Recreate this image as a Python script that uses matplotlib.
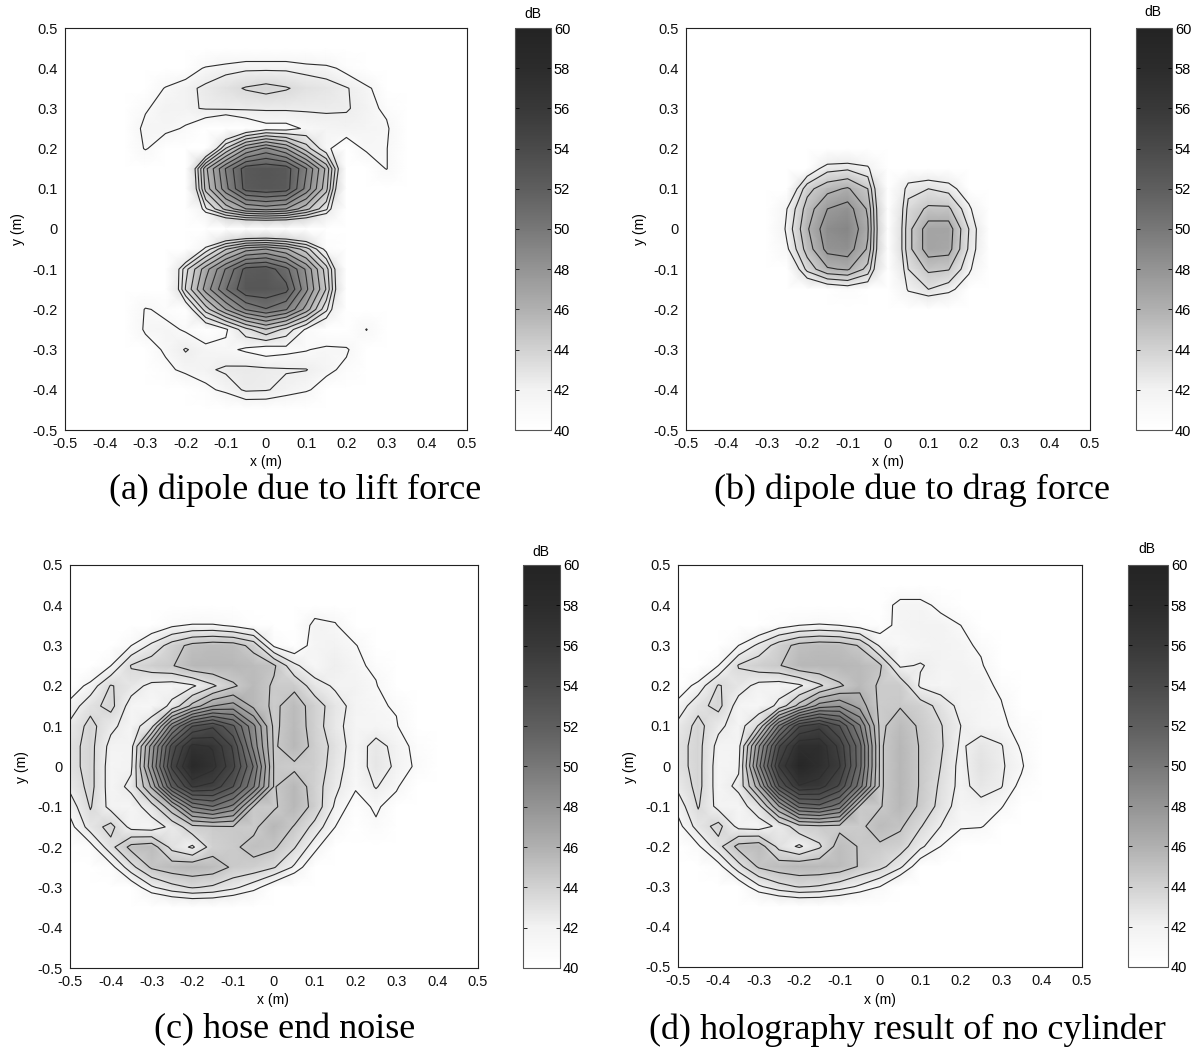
import numpy as np
import matplotlib
matplotlib.use('Agg')
import matplotlib.pyplot as plt
from matplotlib.colors import LinearSegmentedColormap, Normalize
from matplotlib.cm import ScalarMappable

# ------------------------------------------------------------
# measurement grid (m) - rows run from y = +0.5 down to y = -0.5
# ------------------------------------------------------------
x_m = [-0.50, -0.45, -0.40, -0.35, -0.30, -0.25, -0.20, -0.15, -0.10, -0.05, 0.00,
       0.05, 0.10, 0.15, 0.20, 0.25, 0.30, 0.35, 0.40, 0.45, 0.50]
y_m = [0.50, 0.45, 0.40, 0.35, 0.30, 0.25, 0.20, 0.15, 0.10, 0.05, 0.00,
       -0.05, -0.10, -0.15, -0.20, -0.25, -0.30, -0.35, -0.40, -0.45, -0.50]

# (a) dipole due to lift force, dB
lift_db = [
    [38, 38, 38, 38, 38, 38, 38, 38, 38, 38, 38, 38, 38, 38, 38, 38, 38, 38, 38, 38, 38],
    [38, 38, 38, 38, 38, 38, 38, 38, 38, 39, 39, 39, 38, 38, 38, 38, 38, 38, 38, 38, 38],
    [38, 38, 38, 38, 38, 38, 40, 41.2, 41.8, 42, 42, 42, 41.8, 41.5, 40.5, 38, 38, 38, 38, 38, 38],
    [38, 38, 38, 38, 39, 41.2, 41.8, 42.5, 43, 43.5, 43.8, 43.5, 43, 42.8, 42.3, 41.5, 39.5, 38, 38, 38, 38],
    [38, 38, 38, 39, 40.8, 41.8, 42, 42.3, 42.4, 42.4, 42.4, 42.4, 42.4, 42.4, 42.3, 41.8, 40.5, 38, 38, 38, 38],
    [38, 38, 38, 39.5, 41.5, 41.5, 40.8, 39.5, 38, 39.5, 40.5, 40.5, 41.2, 41.6, 41.8, 41.6, 41.4, 38, 38, 38, 38],
    [38, 38, 38, 39, 41.2, 39.5, 38, 38, 43.5, 47, 48.5, 47, 44, 41.3, 40, 41.3, 41.1, 38, 38, 38, 38],
    [38, 38, 38, 38, 38, 38, 37, 45.5, 49.5, 52.5, 52.8, 52.5, 49.5, 45.5, 38, 39.5, 41.1, 38, 38, 38, 38],
    [38, 38, 38, 38, 38, 38, 36.5, 45, 49, 52.3, 52.7, 52.4, 49, 45, 36.5, 38, 38, 38, 38, 38, 38],
    [38, 38, 38, 38, 38, 38, 36, 42, 45, 47, 47.5, 47, 45, 42.5, 36, 38, 38, 38, 38, 38, 38],
    [38, 38, 38, 38, 36, 36, 36, 36, 36, 36, 36, 36, 36, 36, 36, 36, 36, 38, 38, 38, 38],
    [38, 38, 38, 38, 38, 38, 37, 41.5, 44.5, 46.5, 47, 46, 44, 40.5, 37, 38, 38, 38, 38, 38, 38],
    [38, 38, 38, 38, 38, 37, 43, 46.5, 49.5, 52.2, 52.5, 51, 48, 44, 37, 38, 38, 38, 38, 38, 38],
    [38, 38, 38, 38, 38, 36.5, 43.5, 47.5, 50.5, 52.8, 52.8, 52.2, 48.5, 44.5, 37, 38, 38, 38, 38, 38, 38],
    [38, 38, 38, 38, 41.2, 40.5, 39.5, 44, 47, 49.5, 50.5, 49.5, 46.5, 42.5, 37, 38, 38, 38, 38, 38, 38],
    [38, 38, 38, 39, 41.3, 41.5, 40.8, 39.5, 40.8, 43, 44.5, 43, 40.8, 39, 38.5, 41.1, 38, 38, 38, 38, 38],
    [38, 38, 38, 38.5, 40, 41.3, 42.3, 41.6, 41.3, 40.8, 40.3, 40.6, 40.9, 41.4, 41.3, 39, 38, 38, 38, 38, 38],
    [38, 38, 38, 38, 38.5, 40.5, 41.5, 42, 42.4, 42.5, 42.4, 42.3, 42.25, 41.5, 40.5, 38, 38, 38, 38, 38, 38],
    [38, 38, 38, 38, 38, 38, 39, 40.5, 41.5, 42.4, 42.3, 41.8, 41.3, 40, 38, 38, 38, 38, 38, 38, 38],
    [38, 38, 38, 38, 38, 38, 38, 38, 38, 39.5, 39.5, 39, 38, 38, 38, 38, 38, 38, 38, 38, 38],
    [38, 38, 38, 38, 38, 38, 38, 38, 38, 38, 38, 38, 38, 38, 38, 38, 38, 38, 38, 38, 38],
]

# (b) dipole due to drag force, dB
drag_db = [
    [38, 38, 38, 38, 38, 38, 38, 38, 38, 38, 38, 38, 38, 38, 38, 38, 38, 38, 38, 38, 38],
    [38, 38, 38, 38, 38, 38, 38, 38, 38, 38, 38, 38, 38, 38, 38, 38, 38, 38, 38, 38, 38],
    [38, 38, 38, 38, 38, 38, 38, 38, 38, 38, 38, 38, 38, 38, 38, 38, 38, 38, 38, 38, 38],
    [38, 38, 38, 38, 38, 38, 38, 38, 38, 38, 38, 38, 38, 38, 38, 38, 38, 38, 38, 38, 38],
    [38, 38, 38, 38, 38, 38, 38, 38, 38, 38, 38, 38, 38, 38, 38, 38, 38, 38, 38, 38, 38],
    [38, 38, 38, 38, 38, 38, 38, 38, 38, 38, 38, 38, 38, 38, 38, 38, 38, 38, 38, 38, 38],
    [38, 38, 38, 38, 38, 38, 38, 38, 38, 38, 38, 38, 38, 38, 38, 38, 38, 38, 38, 38, 38],
    [38, 38, 38, 38, 38, 38, 40, 42.5, 42.8, 42, 36, 39, 39.5, 39, 38, 38, 38, 38, 38, 38, 38],
    [38, 38, 38, 38, 38, 39, 44, 45.5, 46.2, 44.5, 36, 42.5, 43, 42.5, 40, 38, 38, 38, 38, 38, 38],
    [38, 38, 38, 38, 37, 41.5, 45.2, 47.5, 48.2, 45.8, 36, 43.5, 44.8, 44.8, 42, 38, 38, 38, 38, 38, 38],
    [38, 38, 38, 38, 37, 42, 45.8, 48.5, 49, 46.2, 36, 44, 46.8, 46.8, 43, 39, 38, 38, 38, 38, 38],
    [38, 38, 38, 38, 37, 41.2, 45.2, 48, 48.3, 45.8, 36, 44, 46.8, 46.6, 42.8, 39, 38, 38, 38, 38, 38],
    [38, 38, 38, 38, 38, 38.5, 43.5, 45.8, 46.2, 44, 36, 43, 44.8, 44.6, 42, 38, 38, 38, 38, 38, 38],
    [38, 38, 38, 38, 38, 38, 39, 40, 40.5, 40, 36, 41.8, 43, 42.2, 40, 38, 38, 38, 38, 38, 38],
    [38, 38, 38, 38, 38, 38, 38, 38, 38, 38, 38, 38.5, 38.5, 38, 38, 38, 38, 38, 38, 38, 38],
    [38, 38, 38, 38, 38, 38, 38, 38, 38, 38, 38, 38, 38, 38, 38, 38, 38, 38, 38, 38, 38],
    [38, 38, 38, 38, 38, 38, 38, 38, 38, 38, 38, 38, 38, 38, 38, 38, 38, 38, 38, 38, 38],
    [38, 38, 38, 38, 38, 38, 38, 38, 38, 38, 38, 38, 38, 38, 38, 38, 38, 38, 38, 38, 38],
    [38, 38, 38, 38, 38, 38, 38, 38, 38, 38, 38, 38, 38, 38, 38, 38, 38, 38, 38, 38, 38],
    [38, 38, 38, 38, 38, 38, 38, 38, 38, 38, 38, 38, 38, 38, 38, 38, 38, 38, 38, 38, 38],
    [38, 38, 38, 38, 38, 38, 38, 38, 38, 38, 38, 38, 38, 38, 38, 38, 38, 38, 38, 38, 38],
]

# (c) hose end noise, dB
hose_db = [
    [38, 38, 38, 38, 38, 38, 38, 38, 38, 38, 38, 38, 38, 38, 38, 38, 38, 38, 38, 38, 38],
    [38, 38, 38, 38, 38, 38, 38, 38, 38, 38, 38, 38, 38, 38, 38, 38, 38, 38, 38, 38, 38],
    [38, 38, 38, 38, 38, 38, 38, 38, 38, 38, 38, 38, 39.5, 39.2, 38, 38, 38, 38, 38, 38, 38],
    [38, 38, 38, 39, 40, 40.8, 41.2, 41.2, 40.8, 40.2, 39.2, 38.5, 41.8, 41.3, 38.5, 38, 38, 38, 38, 38, 38],
    [38, 38.5, 39.5, 41, 42.5, 44, 45, 45.3, 45.2, 44.2, 40.8, 40, 41.6, 42, 41.2, 38.5, 38, 38, 38, 38, 38],
    [38, 39, 41, 43.5, 44.2, 44.5, 45.5, 45.6, 45.5, 45.3, 44.8, 42.5, 41.3, 42.2, 41.5, 40.5, 38, 38, 38, 38, 38],
    [40, 41.5, 43.5, 42.8, 41.8, 41.6, 42, 43.2, 44.4, 45.4, 44.4, 44.3, 42.8, 42, 41.8, 41.2, 38.5, 38, 38, 38, 38],
    [41.5, 43, 43.8, 41.6, 41.3, 42.5, 45, 47, 47.5, 45.5, 44.3, 45.3, 44, 42.8, 41.7, 41.3, 40.8, 38, 38, 38, 38],
    [42.5, 43.8, 42.5, 41.6, 43, 49, 53, 54, 52, 48.5, 44.3, 45.4, 44, 42.6, 41.6, 41.5, 41.2, 38.5, 38, 38, 38],
    [43, 43.8, 41.8, 41.8, 47.5, 53.5, 57, 56.5, 54, 49, 44.4, 45.5, 44.2, 43, 41.5, 42.7, 41.8, 40.5, 38, 38, 38],
    [43, 43.8, 41.6, 42, 48, 54.5, 58.6, 57, 54.5, 50.5, 44.5, 44.3, 44.2, 42.8, 41.4, 42.8, 42, 40.7, 38, 38, 38],
    [42.5, 43.8, 41.6, 42.5, 46, 52, 55.5, 55, 53, 49.5, 44.5, 45.5, 44, 42.5, 41.2, 42.3, 41.3, 38.8, 38, 38, 38],
    [41.5, 43.5, 41.8, 41.6, 42.8, 45.5, 49.5, 50.5, 49, 44.5, 44.4, 45.5, 44.2, 42, 40.2, 41.3, 40, 38.5, 38, 38, 38],
    [40.5, 42.8, 43.8, 41.8, 41.6, 42.5, 44.2, 44.4, 44.5, 44.3, 45.6, 44.5, 43, 41, 39, 40.7, 38.5, 38, 38, 38, 38],
    [38.5, 40.5, 43, 45, 45.3, 43, 42, 44, 44.4, 45, 44.8, 43.5, 41.5, 39, 38, 38, 38, 38, 38, 38, 38],
    [38, 38.5, 40.5, 43, 44.8, 45.3, 45.5, 45.3, 44.4, 44.2, 43.5, 42, 39.5, 38, 38, 38, 38, 38, 38, 38, 38],
    [38, 38, 38.5, 40, 42, 43, 43.5, 43.2, 42.5, 41.5, 40, 38.5, 38, 38, 38, 38, 38, 38, 38, 38, 38],
    [38, 38, 38, 38, 38.3, 38.7, 39, 39, 38.7, 38.3, 38, 38, 38, 38, 38, 38, 38, 38, 38, 38, 38],
    [38, 38, 38, 38, 38, 38, 38, 38, 38, 38, 38, 38, 38, 38, 38, 38, 38, 38, 38, 38, 38],
    [38, 38, 38, 38, 38, 38, 38, 38, 38, 38, 38, 38, 38, 38, 38, 38, 38, 38, 38, 38, 38],
    [38, 38, 38, 38, 38, 38, 38, 38, 38, 38, 38, 38, 38, 38, 38, 38, 38, 38, 38, 38, 38],
]

# (d) holography result of no cylinder, dB
holo_db = [
    [38, 38, 38, 38, 38, 38, 38, 38, 38, 38, 38, 38, 38, 38, 38, 38, 38, 38, 38, 38, 38],
    [38, 38, 38, 38, 38, 38, 38, 38, 38, 38, 38, 39.5, 39.5, 38, 38, 38, 38, 38, 38, 38, 38],
    [38, 38, 38, 38, 38, 38, 38, 38, 38, 38, 40, 41.6, 41.6, 40.5, 38, 38, 38, 38, 38, 38, 38],
    [38, 38, 38, 38.5, 39.5, 40.5, 41, 41.2, 41, 40.5, 40.3, 41.5, 42, 41.8, 41, 38.5, 38, 38, 38, 38, 38],
    [38, 38.5, 39.5, 41, 42.5, 44, 45, 45.3, 45.2, 44.5, 42, 41.2, 41.5, 42, 41.6, 40.6, 38.5, 38, 38, 38, 38],
    [38, 39, 41, 43.5, 44.2, 44.5, 45.5, 45.6, 45.6, 45.4, 44.8, 42, 42.3, 41.8, 41.8, 41.3, 38.8, 38, 38, 38, 38],
    [40, 41.5, 43.5, 42.8, 41.8, 41.6, 42, 43.2, 44.4, 45.4, 44.4, 44.3, 42, 41.5, 41.8, 41.8, 40.5, 38.2, 38, 38, 38],
    [41.5, 43, 43.8, 41.6, 41.3, 42.5, 45, 47.5, 48, 46.5, 44.3, 44.5, 44, 43, 41.8, 41.5, 41.2, 38.5, 38, 38, 38],
    [42.5, 43.8, 42.5, 41.6, 43.5, 49.5, 54, 55, 53, 49.5, 44.3, 45.3, 44.4, 43.5, 42.2, 41.6, 41.3, 40.5, 38, 38, 38],
    [43, 43.8, 41.8, 41.8, 48, 54, 57.5, 57.5, 55, 51, 44.4, 45.6, 44.5, 43.6, 42, 42.8, 42.3, 40.8, 38, 38, 38],
    [43, 43.8, 41.6, 42, 49, 55.5, 59, 57.6, 55.5, 51, 44.4, 45.6, 44.5, 43.4, 41.8, 43, 42.4, 41.3, 38.5, 38, 38],
    [42.5, 43.8, 41.6, 42.5, 46.5, 53, 56.5, 56, 54, 50, 44.4, 45.6, 44.5, 43.2, 41.8, 42.7, 42.3, 40.5, 38, 38, 38],
    [41.5, 43.5, 41.8, 41.6, 43, 47, 51, 51.5, 50, 44.5, 44.5, 45.5, 44.4, 43, 41.5, 41.8, 41.2, 39, 38, 38, 38],
    [40.5, 42.8, 43.8, 41.8, 41.6, 42.5, 44.2, 44.4, 44.3, 44.3, 45.3, 44.8, 43.5, 42.2, 41.3, 41.2, 39.5, 38.5, 38, 38, 38],
    [38.5, 40.8, 43, 45, 45.3, 43, 42, 43.2, 45.2, 44.5, 44.4, 44, 42.5, 41, 39, 38, 38, 38, 38, 38, 38],
    [38, 38.5, 40.5, 43, 44.8, 45.3, 45.5, 45.5, 45.3, 44.5, 43.8, 42.5, 40, 38.5, 38, 38, 38, 38, 38, 38, 38],
    [38, 38, 38.5, 40, 42, 43, 43.5, 43.3, 42.8, 42, 41, 39, 38, 38, 38, 38, 38, 38, 38, 38, 38],
    [38, 38, 38, 38, 38.3, 38.7, 39, 39, 38.7, 38.3, 38, 38, 38, 38, 38, 38, 38, 38, 38, 38, 38],
    [38, 38, 38, 38, 38, 38, 38, 38, 38, 38, 38, 38, 38, 38, 38, 38, 38, 38, 38, 38, 38],
    [38, 38, 38, 38, 38, 38, 38, 38, 38, 38, 38, 38, 38, 38, 38, 38, 38, 38, 38, 38, 38],
    [38, 38, 38, 38, 38, 38, 38, 38, 38, 38, 38, 38, 38, 38, 38, 38, 38, 38, 38, 38, 38],
]

# contour levels (dB)
levels_main = [41, 42.2, 43.4, 44.6, 45.8, 47, 48.2, 49.4, 50.6, 51.8, 53, 54.2, 55.4, 56.6, 57.8, 59]
levels_drag = [41.5, 43, 44.5, 46, 47.5]

tick_vals = [-0.5, -0.4, -0.3, -0.2, -0.1, 0, 0.1, 0.2, 0.3, 0.4, 0.5]
tick_text = ['-0.5', '-0.4', '-0.3', '-0.2', '-0.1', '0', '0.1', '0.2', '0.3', '0.4', '0.5']
cbar_ticks = [40, 42, 44, 46, 48, 50, 52, 54, 56, 58, 60]

captions = ['(a) dipole due to lift force', '(b) dipole due to drag force',
            '(c) hose end noise', '(d) holography result of no cylinder']

# grey scale (fraction of range -> grey level)
cm_pos = [0.0, 0.1, 0.2, 0.3, 0.4, 0.5, 0.6, 0.7, 0.8, 0.9, 1.0]
cm_grey = [1.0, 0.95, 0.82, 0.69, 0.58, 0.47, 0.37, 0.29, 0.22, 0.17, 0.14]

W, H = 1197, 1052
TICK_FONT = 'Liberation Sans'
CAP_FONT = 'Liberation Serif'

cmap = LinearSegmentedColormap.from_list('db_grey', [(p, (g, g, g)) for p, g in zip(cm_pos, cm_grey)])
norm = Normalize(vmin=40, vmax=60)

fig = plt.figure(figsize=(W / 100, H / 100), dpi=100)
fig.patch.set_facecolor('white')


def box(left, top, right, bottom):
    # pixel box -> figure fraction rectangle
    return [left / W, 1 - bottom / H, (right - left) / W, (bottom - top) / H]


def fx(px):
    return px / W


def fy(py):
    return 1 - py / H


panels = [
    # data, levels, axes box, colorbar box, caption xy, xlabel xy, ylabel xy, dB xy
    (lift_db, levels_main, (65, 28, 467, 430), (515, 28, 551, 430), (295, 490), (266, 462), (18, 229), (533, 14)),
    (drag_db, levels_drag, (686, 28, 1090, 430), (1136, 28, 1172, 430), (912, 490), (888, 462), (640, 229), (1153, 12)),
    (hose_db, levels_main, (70, 565, 478, 968), (523, 565, 560, 968), (285, 1030), (273, 1000), (22, 767), (541, 552)),
    (holo_db, levels_main, (678, 565, 1082, 967), (1128, 565, 1168, 967), (907, 1030), (880, 1000), (630, 767), (1147, 549)),
]

for (z, levels, abox, cbox, cap_xy, xl_xy, yl_xy, db_xy), caption in zip(panels, captions):
    Z = np.array(z, dtype=float)
    ax = fig.add_axes(box(*abox))
    ax.pcolormesh(x_m, y_m, Z, shading='gouraud', cmap=cmap, norm=norm)
    ax.contour(x_m, y_m, Z, levels=levels, colors='#2e2e2e', linewidths=0.8)
    ax.set_xlim(-0.5, 0.5)
    ax.set_ylim(-0.5, 0.5)
    ax.set_xticks(tick_vals)
    ax.set_xticklabels(tick_text, family=TICK_FONT, fontsize=10.5)
    ax.set_yticks(tick_vals)
    ax.set_yticklabels(tick_text, family=TICK_FONT, fontsize=10.5)
    ax.tick_params(direction='in', length=0, pad=5, colors='#111111')
    for sp in ax.spines.values():
        sp.set_linewidth(0.8)
        sp.set_color('#222222')

    fig.text(fx(xl_xy[0]), fy(xl_xy[1]), 'x (m)', family=TICK_FONT, fontsize=10,
             ha='center', va='center')
    fig.text(fx(yl_xy[0]), fy(yl_xy[1]), 'y (m)', family=TICK_FONT, fontsize=10,
             ha='center', va='center', rotation=90)
    fig.text(fx(cap_xy[0]), fy(cap_xy[1]), caption, family=CAP_FONT, fontsize=26,
             ha='center', va='center')

    cax = fig.add_axes(box(*cbox))
    cb = fig.colorbar(ScalarMappable(norm=norm, cmap=cmap), cax=cax, ticks=cbar_ticks)
    cb.outline.set_linewidth(0.8)
    cb.outline.set_edgecolor('#555555')
    cax.tick_params(direction='in', length=3, width=0.6, left=True, right=True,
                    labelleft=False, labelright=True, labelsize=10.5, pad=2)
    for lab in cax.get_yticklabels():
        lab.set_family(TICK_FONT)
    fig.text(fx(db_xy[0]), fy(db_xy[1]), 'dB', family=TICK_FONT, fontsize=10,
             ha='center', va='center')

fig.savefig('out.png', dpi=100, facecolor='white')
